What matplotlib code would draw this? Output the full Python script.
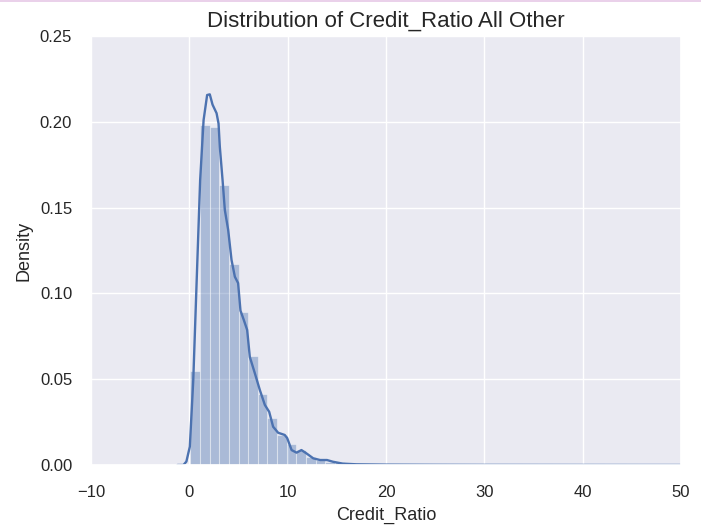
import matplotlib
matplotlib.use("Agg")
import matplotlib.pyplot as plt
import seaborn as sns
from matplotlib.lines import Line2D

# Histogram of Credit_Ratio (density-normalised bins)
bin_start = 0.1
bin_width = 0.98
bin_density = [0.055, 0.198, 0.197, 0.163, 0.117, 0.089, 0.0635, 0.0414,
               0.0272, 0.0177, 0.012, 0.0087, 0.0045, 0.003, 0.002, 0.0015,
               0.001, 0.0007, 0.0005, 0.0004, 0.0003, 0.0002]

# Kernel density estimate curve
kde_x = [-1.2, -0.6, -0.3, 0.05, 0.4, 0.75, 1.1, 1.45, 1.81, 2.08, 2.36, 2.77,
         2.97, 3.1, 3.38, 3.61, 3.95, 4.29, 4.63, 4.96, 5.2, 5.54, 5.88, 6.15,
         6.66, 7.17, 7.68, 8.12, 8.52, 9.03, 9.7, 9.95, 10.4, 10.9, 11.4, 11.9,
         12.6, 13.3, 14.0, 14.6, 15.6, 17.0, 20.0, 25.0, 30.0, 40.0, 50.0]
kde_y = [0.0, 0.0, 0.002, 0.0107, 0.0495, 0.108, 0.166, 0.201, 0.2156, 0.216,
         0.21, 0.205, 0.199, 0.1855, 0.166, 0.1486, 0.137, 0.1195, 0.1097,
         0.106, 0.090, 0.0845, 0.0787, 0.063, 0.0535, 0.0437, 0.035, 0.031,
         0.0223, 0.0188, 0.0175, 0.0157, 0.0087, 0.0072, 0.0087, 0.0068,
         0.0039, 0.0029, 0.0029, 0.0019, 0.0008, 0.0004, 0.0002, 0.0001,
         0.00005, 0.00002, 0.0]

x_ticks = [-10, 0, 10, 20, 30, 40, 50]
y_ticks = [0.00, 0.05, 0.10, 0.15, 0.20, 0.25]

sns.set_theme(style="darkgrid")
plt.rcParams["font.family"] = ["Liberation Sans", "DejaVu Sans"]

color = "#4C72B0"
fig = plt.figure(figsize=(7.01, 5.28), dpi=100)
ax = fig.add_axes([91 / 701, 63 / 528, 590 / 701, 429 / 528])

lefts = [bin_start + i * bin_width for i in range(len(bin_density))]
ax.bar(lefts, bin_density, width=bin_width, align="edge", color=color,
       alpha=0.4, edgecolor="white", linewidth=0.8)
ax.plot(kde_x, kde_y, color=color, linewidth=1.7)

ax.set_xlim(-10, 50)
ax.set_ylim(0, 0.25)
ax.set_xticks(x_ticks)
ax.set_yticks(y_ticks)
ax.set_yticklabels([f"{v:.2f}" for v in y_ticks])
ax.tick_params(axis="x", labelsize=12, pad=8.5)
ax.tick_params(axis="y", labelsize=12, pad=7.5)
ax.set_xlabel("Credit_Ratio", fontsize=13, labelpad=5)
ax.set_ylabel("Density", fontsize=13, labelpad=5.5)
ax.set_title("Distribution of Credit_Ratio All Other", fontsize=16, pad=7)

# thin separator along the top edge
fig.add_artist(Line2D([0, 1], [0.999, 0.999], transform=fig.transFigure,
                      color="#E6C8E6", linewidth=1.2))

fig.savefig("out.png", dpi=100)
